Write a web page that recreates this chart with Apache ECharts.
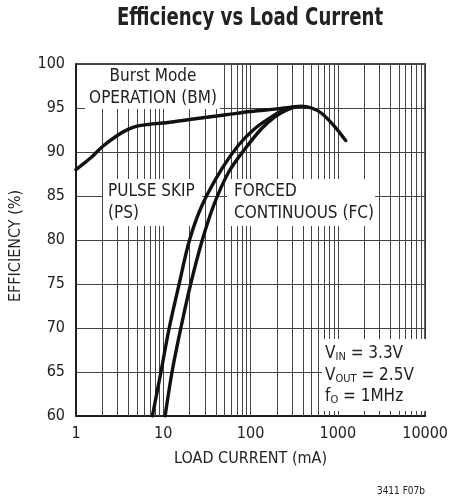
<!DOCTYPE html>
<html>
<head>
<meta charset="utf-8">
<script src="https://cdn.jsdelivr.net/npm/echarts@6/dist/echarts.min.js"></script>
<style>
html,body{margin:0;padding:0;background:#fff;}
#c{width:451px;height:496px;}
</style>
</head>
<body>
<div id="c"></div>
<script>
// ---- data ----
const bmCurrent = [1, 1.5, 2, 3, 4, 5, 7, 10, 20, 50, 100, 200, 300, 380, 500, 650, 900, 1230];
const bmEff     = [88, 89.4, 90.6, 91.9, 92.6, 92.95, 93.15, 93.3, 93.7, 94.2, 94.6, 94.9, 95.1, 95.2, 95.0, 94.4, 93.0, 91.3];
const psCurrent = [7.5, 9.4, 11.7, 15.2, 20, 28, 47, 73, 113, 174, 220, 300];
const psEff     = [60, 65, 70, 75, 80, 84, 88.1, 90.8, 92.7, 94.0, 94.6, 95.1];
const fcCurrent = [10.5, 12.6, 15.9, 20.6, 28, 38, 56, 87, 135, 190, 250, 330];
const fcEff     = [60, 65, 70, 75, 80, 84, 87.7, 90.4, 92.7, 94.0, 94.7, 95.15];
const xTickLabels = ['1', '10', '100', '1000', '10000'];
const yTickLabels = ['60', '65', '70', '75', '80', '85', '90', '95', '100'];
const decades = [1, 10, 100, 1000];
const mantissas = [1, 2, 3, 4, 5, 6, 7, 8, 9];

const gridVals = [];
decades.forEach(d => mantissas.forEach(m => { if (d * m > 1) gridVals.push(d * m); }));

const FONT = "'Liberation Sans Narrow','DejaVu Sans Condensed','Liberation Sans',sans-serif";
const pairs = (xs, ys) => xs.map((x, i) => [x, ys[i]]);

const chart = echarts.init(document.getElementById('c'), null, {renderer: 'canvas'});
const curveStyle = {color: '#111', width: 3.4, cap: 'round', join: 'round'};

const subRich = {
  m: {fontFamily: FONT, fontSize: 17, lineHeight: 18, verticalAlign: 'top', fill: '#222'},
  s: {fontFamily: FONT, fontSize: 11, lineHeight: 18, padding: [7, 0, 0, 0], verticalAlign: 'top', fill: '#222'}
};
const ann = (x, y, t, align) => ({type: 'text', z: 101, x: x, y: y,
  style: {text: t, font: '17px ' + FONT, fill: '#222', textAlign: align, textVerticalAlign: 'middle'}});

const option = {
  animation: false,
  backgroundColor: '#fff',
  grid: {left: 76, right: 23, top: 64, bottom: 80, show: true, borderColor: '#111', borderWidth: 1.5, backgroundColor: 'transparent'},
  xAxis: {
    type: 'log', logBase: 10, min: 1, max: 10000,
    name: 'LOAD CURRENT (mA)', nameLocation: 'middle', nameGap: 35,
    nameTextStyle: {fontFamily: FONT, fontSize: 16, color: '#222'},
    axisLine: {show: true, lineStyle: {color: '#111', width: 1.5}},
    axisTick: {show: false},
    splitLine: {show: false},
    minorTick: {show: false},
    axisLabel: {fontFamily: FONT, fontSize: 16, color: '#222', margin: 10,
      formatter: v => { const s = String(Math.round(v)); return xTickLabels.indexOf(s) >= 0 ? s : ''; }}
  },
  yAxis: {
    type: 'value', min: 60, max: 100, interval: 5,
    name: 'EFFICIENCY (%)', nameLocation: 'middle', nameGap: 52,
    nameTextStyle: {fontFamily: FONT, fontSize: 16, color: '#222', padding: [0, 12, 0, 0]},
    axisLine: {show: true, lineStyle: {color: '#111', width: 1.5}},
    axisTick: {show: false},
    splitLine: {show: true, lineStyle: {color: '#444', width: 1}},
    axisLabel: {fontFamily: FONT, fontSize: 16, color: '#222', margin: 11,
      formatter: v => { const s = String(v); return yTickLabels.indexOf(s) >= 0 ? s : ''; }}
  },
  series: [
    {
      name: 'grid', type: 'line', data: [], z: 1, silent: true,
      markLine: {
        silent: true, symbol: ['none', 'none'], label: {show: false},
        lineStyle: {color: '#444', width: 1, type: 'solid'},
        emphasis: {disabled: true},
        data: gridVals.map(v => ({xAxis: v}))
      }
    },
    {name: 'BM', type: 'line', data: pairs(bmCurrent, bmEff), smooth: 0.35, showSymbol: false, lineStyle: curveStyle, z: 150},
    {name: 'PS', type: 'line', data: pairs(psCurrent, psEff), smooth: 0.35, showSymbol: false, lineStyle: curveStyle, z: 150},
    {name: 'FC', type: 'line', data: pairs(fcCurrent, fcEff), smooth: 0.35, showSymbol: false, lineStyle: curveStyle, z: 150}
  ],
  graphic: [
    {type: 'text', z: 101, x: 250, y: 19, scaleX: 0.84,
      style: {text: 'Efficiency vs Load Current', font: 'bold 24px ' + FONT, fill: '#222', textAlign: 'center', textVerticalAlign: 'middle'}},
    // white label boxes
    {type: 'rect', z: 100, shape: {x: 85, y: 65, width: 135, height: 44}, style: {fill: '#fff'}},
    {type: 'rect', z: 100, shape: {x: 103, y: 179, width: 99, height: 47}, style: {fill: '#fff'}},
    {type: 'rect', z: 100, shape: {x: 227, y: 179, width: 148, height: 47}, style: {fill: '#fff'}},
    {type: 'rect', z: 100, shape: {x: 322, y: 339, width: 105, height: 72}, style: {fill: '#fff'}},
    // texts
    ann(153, 77, 'Burst Mode', 'center'),
    ann(153, 99, 'OPERATION (BM)', 'center'),
    ann(108, 192, 'PULSE SKIP', 'left'),
    ann(108, 214, '(PS)', 'left'),
    ann(234, 192, 'FORCED', 'left'),
    ann(234, 214, 'CONTINUOUS (FC)', 'left'),
    {type: 'text', z: 101, x: 325, y: 345, style: {text: '{m|V}{s|IN}{m| = 3.3V}', fill: '#222', textAlign: 'left', rich: subRich}},
    {type: 'text', z: 101, x: 325, y: 367, style: {text: '{m|V}{s|OUT}{m| = 2.5V}', fill: '#222', textAlign: 'left', rich: subRich}},
    {type: 'text', z: 101, x: 325, y: 388, style: {text: '{m|f}{s|O}{m| = 1MHz}', fill: '#222', textAlign: 'left', rich: subRich}},
    {type: 'text', z: 101, x: 425, y: 491, style: {text: '3411 F07b', font: '10px ' + FONT, fill: '#222', textAlign: 'right', textVerticalAlign: 'middle'}}
  ]
};
chart.setOption(option);
</script>
</body>
</html>
